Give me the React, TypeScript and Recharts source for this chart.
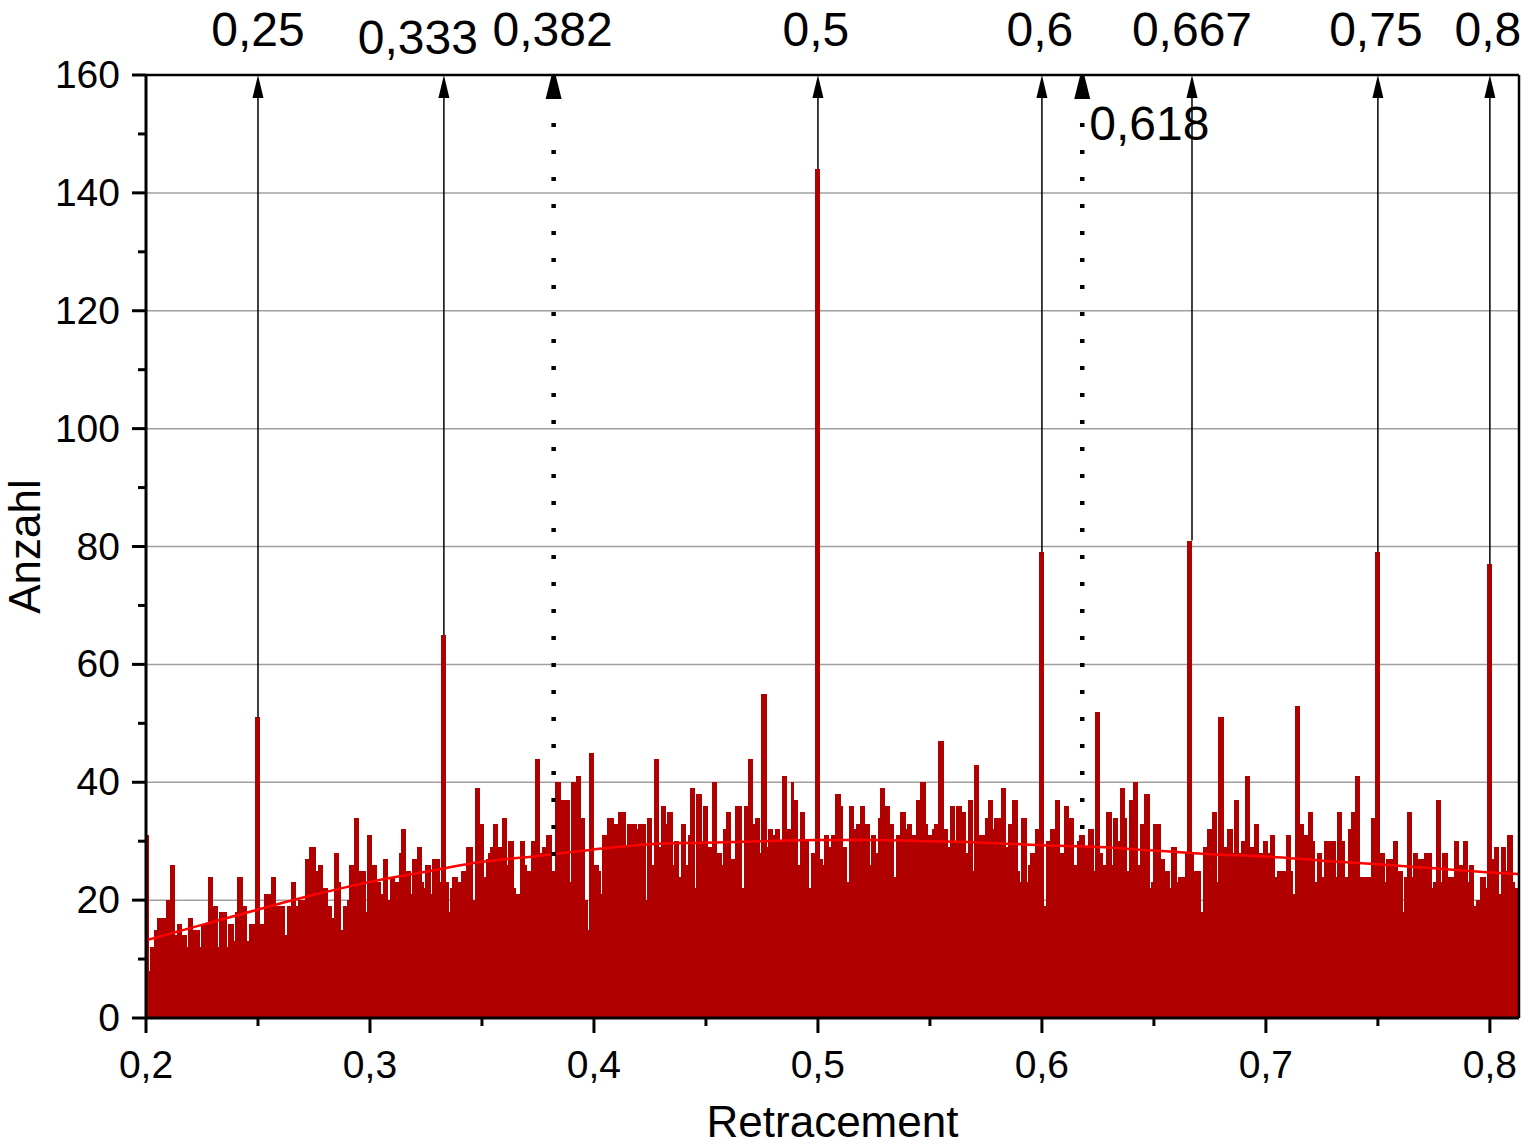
import React from 'react';
import { ComposedChart, Bar, Line, XAxis, YAxis, CartesianGrid, ReferenceLine, Label } from 'recharts';

// histogram: bin width 0.001 starting at 0.2, counts read per bin
const BIN_START = 0.2;
const BIN_WIDTH = 0.001;
const X_MIN = 0.2;
const X_MAX = 0.813;

const counts020 = [
  31, 8, 12, 12, 15, 17, 17, 17, 17, 20,
  20, 26, 26, 14, 16, 16, 14, 14, 12, 17,
  17, 15, 15, 15, 12, 16, 16, 16, 24, 24,
  19, 19, 12, 18, 18, 18, 12, 16, 16, 13,
  18, 24, 24, 19, 19, 13, 16, 16, 16, 51,
  51, 16, 16, 21, 21, 21, 24, 24, 19, 19,
  19, 19, 14, 19, 19, 23, 23, 19, 20, 20,
  20, 27, 27, 29, 29, 29, 25, 26, 26, 22,
  22, 19, 19, 17, 28, 28, 23, 15, 19, 19,
  20, 26, 26, 34, 34, 25, 25, 25, 18, 31,
];
const counts030 = [
  31, 26, 26, 23, 23, 21, 27, 27, 20, 24,
  24, 23, 23, 28, 32, 32, 25, 25, 21, 27,
  27, 29, 29, 23, 22, 26, 26, 21, 27, 27,
  27, 23, 65, 65, 23, 18, 22, 24, 24, 23,
  23, 25, 25, 29, 29, 29, 20, 39, 39, 33,
  33, 24, 27, 28, 29, 33, 33, 29, 29, 34,
  34, 26, 30, 30, 22, 21, 21, 30, 30, 26,
  25, 25, 30, 30, 44, 44, 28, 29, 29, 31,
  31, 25, 25, 40, 40, 37, 37, 37, 37, 23,
  40, 40, 41, 41, 34, 34, 20, 15, 45, 45,
];
const counts040 = [
  26, 26, 25, 21, 31, 31, 34, 34, 34, 33,
  33, 35, 35, 35, 29, 33, 33, 33, 33, 32,
  33, 33, 33, 20, 34, 34, 26, 44, 44, 29,
  36, 36, 33, 35, 35, 26, 30, 30, 24, 33,
  33, 26, 31, 39, 39, 22, 38, 38, 30, 36,
  36, 29, 29, 40, 40, 28, 28, 26, 32, 35,
  35, 27, 27, 36, 36, 36, 22, 36, 36, 44,
  44, 33, 34, 34, 28, 55, 55, 29, 32, 32,
  31, 32, 32, 30, 41, 41, 32, 32, 40, 37,
  37, 26, 35, 35, 30, 30, 22, 28, 28, 144,
];
const counts050 = [
  144, 27, 26, 31, 31, 29, 31, 31, 38, 38,
  36, 29, 29, 23, 36, 36, 32, 33, 33, 36,
  36, 33, 33, 26, 31, 31, 28, 34, 39, 39,
  36, 36, 33, 33, 24, 31, 31, 35, 35, 32,
  33, 33, 31, 31, 37, 37, 40, 40, 33, 31,
  31, 32, 33, 33, 47, 47, 32, 32, 29, 36,
  36, 30, 36, 36, 35, 35, 28, 37, 37, 25,
  43, 43, 31, 31, 31, 34, 37, 37, 32, 34,
  34, 34, 39, 39, 29, 33, 33, 37, 37, 25,
  23, 34, 34, 23, 26, 28, 28, 32, 32, 79,
];
const counts060 = [
  79, 19, 30, 30, 32, 32, 37, 37, 28, 28,
  36, 36, 34, 34, 26, 26, 30, 31, 31, 29,
  29, 32, 32, 25, 52, 52, 28, 26, 26, 35,
  35, 26, 34, 34, 30, 39, 39, 34, 25, 37,
  37, 40, 40, 26, 33, 33, 38, 38, 22, 23,
  33, 33, 33, 27, 27, 25, 25, 22, 29, 29,
  23, 24, 24, 24, 28, 81, 81, 28, 25, 25,
  25, 18, 29, 29, 32, 32, 35, 35, 23, 51,
  51, 29, 29, 32, 32, 28, 37, 37, 28, 30,
  30, 41, 41, 29, 29, 33, 33, 28, 28, 30,
];
const counts070 = [
  30, 28, 31, 31, 24, 25, 25, 25, 25, 31,
  31, 25, 21, 53, 53, 33, 33, 31, 31, 35,
  35, 30, 23, 28, 28, 24, 30, 30, 30, 30,
  30, 24, 35, 35, 30, 24, 24, 32, 35, 35,
  41, 41, 24, 24, 24, 24, 24, 34, 34, 79,
  79, 28, 28, 23, 27, 27, 27, 30, 30, 25,
  25, 18, 24, 35, 35, 24, 28, 28, 27, 27,
  27, 28, 28, 28, 22, 23, 37, 37, 23, 28,
  28, 24, 24, 24, 30, 30, 26, 26, 30, 30,
  23, 26, 26, 19, 20, 20, 24, 24, 22, 77,
];
const counts080 = [77, 27, 29, 29, 21, 29, 29, 25, 31, 31, 23, 22, 22];

const counts = [...counts020, ...counts030, ...counts040, ...counts050, ...counts060, ...counts070, ...counts080];
const histData = counts.map((c, i) => ({ x: BIN_START + (i + 0.5) * BIN_WIDTH, count: c }));

// fitted curve (red), read at 0.025 steps
const fitX = [0.2, 0.225, 0.25, 0.275, 0.3, 0.325, 0.35, 0.375, 0.4, 0.425, 0.45, 0.475, 0.5,
  0.525, 0.55, 0.575, 0.6, 0.625, 0.65, 0.675, 0.7, 0.725, 0.75, 0.775, 0.8, 0.813];
const fitY = [13.2, 15.8, 18.4, 20.9, 23.1, 24.8, 26.5, 27.5, 28.6, 29.5, 29.75, 30.0, 30.2,
  30.2, 30.0, 29.75, 29.3, 29.0, 28.4, 27.8, 27.4, 26.7, 26.1, 25.4, 24.7, 24.4];
const fitData = fitX.map((x, i) => ({ x, fit: fitY[i] }));

// marked ratios
const markerX = [0.25, 0.333, 0.382, 0.5, 0.6, 0.618, 0.667, 0.75, 0.8];
const markerLabels = ['0,25', '0,333', '0,382', '0,5', '0,6', '0,618', '0,667', '0,75', '0,8'];
const markerBase = [51, 65, 27, 144, 79, 31, 81, 79, 77];
const markerDotted = [false, false, true, false, false, true, false, false, false];

const xTicks = [0.2, 0.25, 0.3, 0.35, 0.4, 0.45, 0.5, 0.55, 0.6, 0.65, 0.7, 0.75, 0.8];
const yTicks = [0, 10, 20, 30, 40, 50, 60, 70, 80, 90, 100, 110, 120, 130, 140, 150, 160];
const yGrid = [20, 40, 60, 80, 100, 120, 140];

const FONT = '"Liberation Sans", Arial, Helvetica, sans-serif';
const BAR_COLOR = '#b00000';

// label placement next to each marker: dx from line, baseline relative to plot top
const labelPlace: Record<string, { dx: number; dy: number; anchor: 'middle' | 'start' }> = {
  '0,25': { dx: 0, dy: -29, anchor: 'middle' },
  '0,333': { dx: -26, dy: -21, anchor: 'middle' },
  '0,382': { dx: -1, dy: -29, anchor: 'middle' },
  '0,5': { dx: -2, dy: -29, anchor: 'middle' },
  '0,6': { dx: -2, dy: -29, anchor: 'middle' },
  '0,618': { dx: 7, dy: 65, anchor: 'start' },
  '0,667': { dx: 0, dy: -29, anchor: 'middle' },
  '0,75': { dx: -2, dy: -29, anchor: 'middle' },
  '0,8': { dx: -2, dy: -29, anchor: 'middle' },
};

const Arrow = (props: any) => {
  const { x1, y1, y2, dotted, text } = props;
  if (x1 == null || y1 == null || y2 == null) return null;
  const x = x1;
  const top = Math.min(y1, y2);
  const bottom = Math.max(y1, y2);
  const place = labelPlace[text];
  return (
    <g>
      {dotted ? (
        <>
          <line x1={x} y1={top + 48} x2={x} y2={bottom} stroke="#000" strokeWidth={4.5} strokeDasharray="4 23" />
          <polygon points={`${x - 2},${top} ${x + 2},${top} ${x + 8},${top + 24} ${x - 8},${top + 24}`} fill="#000" />
        </>
      ) : (
        <>
          <line x1={x} y1={top + 18} x2={x} y2={bottom} stroke="#000" strokeWidth={1.5} />
          <polygon points={`${x},${top} ${x - 5.5},${top + 23} ${x + 5.5},${top + 23}`} fill="#000" />
        </>
      )}
      <text x={x + place.dx} y={top + place.dy} textAnchor={place.anchor} fontSize={48} fontFamily={FONT} fill="#000">
        {text}
      </text>
    </g>
  );
};

// bars drawn slightly wider than their bin so neighbouring bins join without seams
const BinBar = (props: any) => {
  const { x, y, width, height } = props;
  if (height == null || height <= 0) return null;
  return <rect x={x - 0.5} y={y} width={width + 1} height={height} fill={BAR_COLOR} shapeRendering="crispEdges" />;
};

const XTick = (props: any) => {
  const { x, y, payload } = props;
  const v = payload.value as number;
  const major = Math.round(v * 100) % 10 === 0;
  const label = (Math.round(v * 10) / 10).toString().replace('.', ',');
  return (
    <g>
      <line x1={x} y1={y} x2={x} y2={y + (major ? 15 : 8)} stroke="#000" strokeWidth={3} />
      {major && (
        <text x={x} y={y + 60} textAnchor="middle" fontSize={39} fontFamily={FONT} fill="#000">
          {label}
        </text>
      )}
    </g>
  );
};

const YTick = (props: any) => {
  const { x, y, payload } = props;
  const v = payload.value as number;
  const major = v % 20 === 0;
  return (
    <g>
      <line x1={x - (major ? 14 : 8)} y1={y} x2={x} y2={y} stroke="#000" strokeWidth={3} />
      {major && (
        <text x={x - 26} y={y + 13} textAnchor="end" fontSize={39} fontFamily={FONT} fill="#000">
          {v}
        </text>
      )}
    </g>
  );
};

const CHART_W = 1529;
const CHART_H = 1148;
const MARGIN = { top: 75, right: 10, left: 0, bottom: 0 };
const Y_AXIS_W = 146;
const X_AXIS_H = 130;

const YTitle = (props: any) => {
  const vb = props.viewBox || { x: 0, y: MARGIN.top, width: Y_AXIS_W, height: CHART_H - MARGIN.top - X_AXIS_H };
  const bx = vb.x + 40;
  const cy = vb.y + vb.height / 2;
  return (
    <text x={bx} y={cy} transform={`rotate(-90 ${bx} ${cy})`} textAnchor="middle" fontSize={44} fontFamily={FONT} fill="#000">
      Anzahl
    </text>
  );
};

const XTitle = (props: any) => {
  const vb = props.viewBox || { x: Y_AXIS_W, y: CHART_H - X_AXIS_H, width: CHART_W - Y_AXIS_W - MARGIN.right, height: X_AXIS_H };
  return (
    <text x={vb.x + vb.width / 2} y={vb.y + 119} textAnchor="middle" fontSize={44} fontFamily={FONT} fill="#000">
      Retracement
    </text>
  );
};

export default function App() {
  return (
    <div style={{ position: 'absolute', left: 0, top: 0, width: CHART_W, height: CHART_H, background: '#fff', fontFamily: FONT }}>
      <ComposedChart width={CHART_W} height={CHART_H} data={histData} margin={MARGIN} barCategoryGap={0} barGap={0}>
        <CartesianGrid vertical={false} horizontalValues={yGrid} stroke="#a0a0a0" strokeWidth={1.5} />
        <XAxis
          dataKey="x"
          type="number"
          domain={[X_MIN, X_MAX]}
          ticks={xTicks}
          interval={0}
          height={X_AXIS_H}
          tickSize={0}
          tickMargin={0}
          tickLine={false}
          tick={<XTick />}
          axisLine={{ stroke: '#000', strokeWidth: 3 }}
          allowDataOverflow
        >
          <Label content={<XTitle />} />
        </XAxis>
        <XAxis xAxisId="fit" dataKey="x" type="number" domain={[X_MIN, X_MAX]} hide allowDataOverflow />
        <YAxis
          type="number"
          domain={[0, 160]}
          ticks={yTicks}
          interval={0}
          width={Y_AXIS_W}
          tickSize={0}
          tickMargin={0}
          tickLine={false}
          tick={<YTick />}
          axisLine={{ stroke: '#000', strokeWidth: 3 }}
          allowDataOverflow
        >
          <Label content={<YTitle />} />
        </YAxis>
        <Bar dataKey="count" fill={BAR_COLOR} shape={<BinBar />} isAnimationActive={false} />
        <Line
          xAxisId="fit"
          data={fitData}
          dataKey="fit"
          type="monotone"
          stroke="#ff0000"
          strokeWidth={2.5}
          dot={false}
          activeDot={false}
          isAnimationActive={false}
        />
        <ReferenceLine y={160} stroke="#000" strokeWidth={2.5} />
        <ReferenceLine x={X_MAX} stroke="#000" strokeWidth={2.5} />
        {markerX.map((mx, i) => (
          <ReferenceLine
            key={markerLabels[i]}
            segment={[{ x: mx, y: markerBase[i] }, { x: mx, y: 160 }]}
            shape={(p: any) => <Arrow {...p} dotted={markerDotted[i]} text={markerLabels[i]} />}
          />
        ))}
      </ComposedChart>
    </div>
  );
}
